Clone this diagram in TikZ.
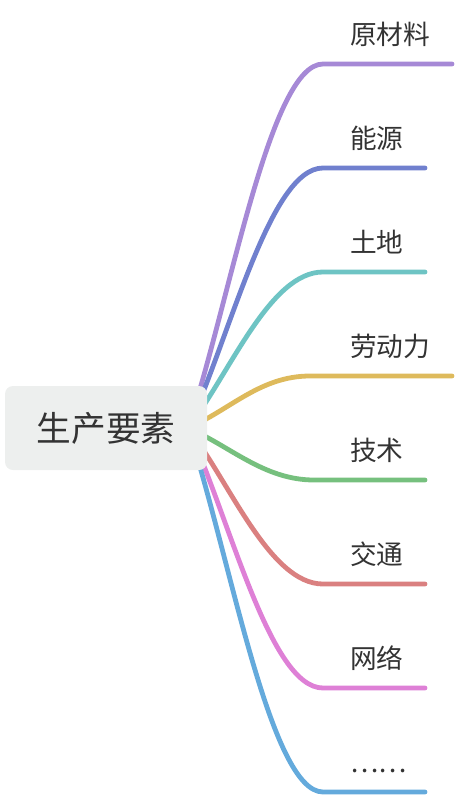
\documentclass[tikz,border=0pt]{standalone}
\usepackage{fontspec}
\setmainfont{Noto Sans CJK SC}
\usepackage{xcolor}
\usepackage{tikz}
\usetikzlibrary{positioning}

\definecolor{rootgray}{HTML}{EDEFEE}
\definecolor{txtgray}{HTML}{333333}
\definecolor{cpurple}{HTML}{A689D6}
\definecolor{cindigo}{HTML}{7080CE}
\definecolor{cteal}{HTML}{6EC4C4}
\definecolor{cgold}{HTML}{DEBA5C}
\definecolor{cgreen}{HTML}{76C07E}
\definecolor{cred}{HTML}{DA8080}
\definecolor{cpink}{HTML}{DE80D6}
\definecolor{cblue}{HTML}{64AADC}

\begin{document}
\begin{tikzpicture}[x=0.75pt, y=-0.75pt,
  root/.style={rectangle, fill=rootgray, rounded corners=6pt, minimum width=151.5pt, minimum height=63pt, text=txtgray, font=\fontsize{26}{30}\selectfont},
  leaf/.style={anchor=base west, inner sep=0pt, text=txtgray, font=\fontsize{20}{24}\selectfont},
  branch/.style={line width=3.6pt, line cap=round}]
\useasboundingbox (0,0) rectangle (454,800);
% ends of the branches
\coordinate (hub) at (188,428);
\coordinate (e1) at (323,64);  \coordinate (t1) at (452,64);
\coordinate (e2) at (323,168); \coordinate (t2) at (425,168);
\coordinate (e3) at (323,272); \coordinate (t3) at (425,272);
\coordinate (e4) at (310,376); \coordinate (t4) at (452,376);
\coordinate (e5) at (314,480); \coordinate (t5) at (425,480);
\coordinate (e6) at (323,584); \coordinate (t6) at (425,584);
\coordinate (e7) at (323,688); \coordinate (t7) at (425,688);
\coordinate (e8) at (323,792); \coordinate (t8) at (425,792);
\begin{scope}[every path/.style=branch]
\draw[cpurple] (hub) .. controls +(42,-127) and +(-53,0) .. (e1) -- (t1);
\draw[cindigo] (hub) .. controls +(42,-91) and +(-53,0) .. (e2) -- (t2);
\draw[cteal] (hub) .. controls +(42,-55) and +(-53,0) .. (e3) -- (t3);
\draw[cgold] (hub) .. controls +(42,-18) and +(-50,0) .. (e4) -- (t4);
\draw[cgreen] (hub) .. controls +(42,18) and +(-50,0) .. (e5) -- (t5);
\draw[cred] (hub) .. controls +(42,55) and +(-53,0) .. (e6) -- (t6);
\draw[cpink] (hub) .. controls +(42,91) and +(-53,0) .. (e7) -- (t7);
\draw[cblue] (hub) .. controls +(42,127) and +(-53,0) .. (e8) -- (t8);
\end{scope}
\node[root] (factor) at (106,428) {生产要素};
\node[leaf] (l1) at (350,44) {原材料};
\node[leaf] (l2) at (350,148) {能源};
\node[leaf] (l3) at (350,252) {土地};
\node[leaf] (l4) at (350,356) {劳动力};
\node[leaf] (l5) at (350,460) {技术};
\node[leaf] (l6) at (350,564) {交通};
\node[leaf] (l7) at (350,668) {网络};
\node[leaf] (l8) at (350,772) {……};
\end{tikzpicture}
\end{document}
